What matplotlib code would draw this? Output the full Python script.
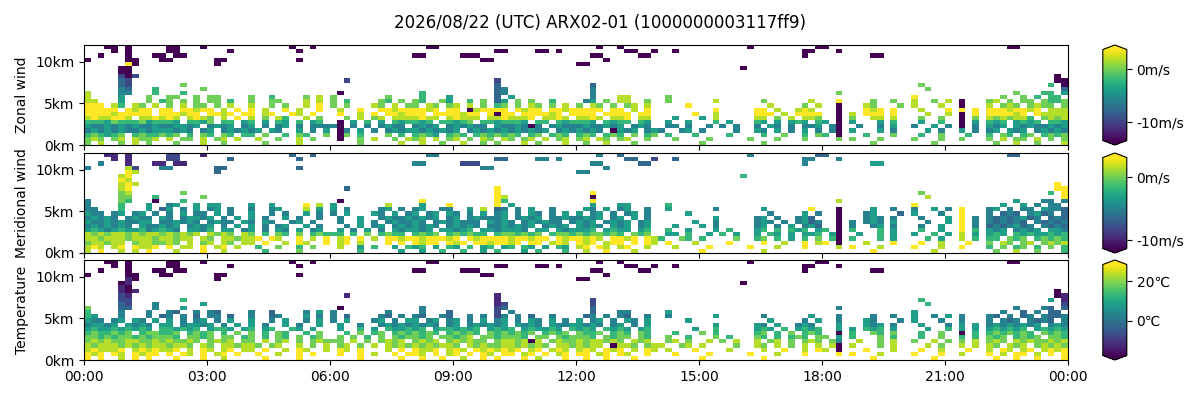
import numpy as np
import matplotlib
matplotlib.use('Agg')
import matplotlib.pyplot as plt
import matplotlib.dates as mdates
from matplotlib.ticker import FormatStrFormatter

plt.rcParams['font.family'] = ['DejaVu Sans', 'Noto Sans CJK JP']

TITLE = '2026/08/22 (UTC) ARX02-01 (1000000003117ff9)'
START = np.datetime64('2026-08-22T00:00')
STEP_MIN = 10          # one column = 10 minutes, 144 columns
STEP_KM = 0.5          # one row = 500 m, 24 rows
NCOL, NROW = 144, 24

LABELS = ['Zonal wind', 'Meridional wind', 'Temperature']
RANGES = [(-13.6, 3.8), (-11.3, 3.0), (-17.7, 28.5)]
CB_TICKS = [[0, -10], [0, -10], [20, 0]]
CB_FMT = ['%dm/s', '%dm/s', '%d\u2103']

# each row = 12 blocks of 2 hours (12 cells of 10 min)
# '.' = no data, digit 0..9 = position in the colour range, '-' = empty block
# rows go from the top (11.5-12 km) down to the ground
ZONAL_ROWS = [
    "...00.0..... 00...0...... ......0..0.. - ..00........ - ...0..0..... - .0.........0 0........... - ...00.......",
    "....0.0..... 00.......0.. .......0.... - - 00....00.0.. .......00..0 ..0......... .........00. ..0.........",
    "..0...0...00 .00......... - - 00.....000.. - ..00.....00. - .........0.. .......00...",
    "0.....00...0 0......00... .......0.... - ..........00 - ....0.......",
    "......90.... .......0.... - - - - 00..........",
    ".....00..... - - - - - - - 0...........",
    ".....00.....",
    ".....202.... - - - - - - - - - - ..........0.",
    ".....32..... - - ..2......... - 2........... - - - - - ..........00",
    ".....32..... ..7......... - - - 3........... ..3......... - - - ..7......... .........6.0",
    ".....43...6. .....7...... - - - 34.......... ..4......... - - - ...7........ ...........3",
    "8....44...6. ..6......... - .0.......... .6.......... 34.......... ..4......... - - ..7......... - ....7...66.5",
    "8....5...7.. 77..7.77.... 7..6....7.8. 7.......7... .6...5...... 3.5......... ..4...88.... .7.......... - - .9.......... ..7..7.6.66.",
    "88...5...7.6 7.7.7.77.6.. 7..77...8.8. 7.6....76.7. 76..75..6.7. 35.7.7..6... .45.7.88..7. .7......8... ...7......8. ..9....7..7. .8..7.8.0... 78.7.77.7667",
    "999.86.87.8. 7.8.77.7.8.. 8..7.7..8.9. 7.7...87.8.7 7.87.78.8.7. 67.7.87.7.8. 7.87.7.78.8. ....9....... ....8....7.8 ..0...87...7 .8...8..0... 8.787.7877.7",
    "99999.9899.9 9.99899.8.9. 9.8..9.8..9. .8..9..99899 9989.99.0899 99.9899.9989 9999.99.8.9. ........9... ..99.8..898. ..0...989.9. ..8...9.9.9. 99989989.888",
    "9999899999.9 99899.9989.9 9.89..98.9.. .9..8.9.9989 99.9999899.9 099.999989.9 999.9999.99. .....9..8... ..999.8.9999 ..0.8.999.9. ...8..8.0.9. 999989.98888",
    "8988998.8898 98.8987.8.9. 8.7.86..8.7. ..7.8.78.888 8988.89888.8 898889.8898. 8898.889.88. ..5...5.8... ..88.7.8.887 ..0.7..88.8. ..7..7..0.7. 8787886.7878",
    "666576667566 65.6657.66.5 6.5.65.6.56. .0.5.6.5.656 656.66567.66 56665.66.656 665.6566.65. .5..5...6.5. ..65.5.565.6 5.0.5...5.6. ..5..6..0.5. 656.5656.665",
    "544545454454 45545.4545.4 5.4.45.4.444 40.4.4.4544. 4545.454544. 5445404.4544 4544545.454. .44.4..4.4.4 ..4.54.4.445 .40..4..4.5. .4..5.4.0.4. 545.54544545",
    "454545445455 5454.45.4545 45.54..5.4.5 .04.5.4.4545 5454545.4545 45454545.454 5454.0545.45 4..45.4....4 ..54.5.4.5.4 .40.5...5.4. ...5.4..5.4. 45.545.45454",
    "676567.67667 67.6.76.76.6 6.7..6.76..7 .07.6...7.6. 6765.676.676 7676.67.676. 676.676.7.67 .6...6....6. ...6..7..6.7 6.0...6...7. ..6..7...6.. 6.76.67.6767",
    "787.78.8778. 8.77.8.78.8. .8..7..8.7.. .0..7.8..7.8 78.8.78.7.87 .87.78.8.78. 78.87.78..7. ..7....7.... .7...7...7.. ..7.7...7... .7...7..7... 7.8.77.8.7.7",
    "7.8..7.8.7.. .7...8..7... ..7....8.... ....7.....8. .8..7..8..7. 7...8.7...8. .7..8...7... ......7..... ...7........ .......7.... ....7....... .7..8..7...8",
]

MERID_ROWS = [
    "...11.1..... 22...1...... ......3..3.. - ..44........ - ...4..3..... - .4.........3 3........... - ...33.......",
    "....1.1..... 22.......3.. .......3.... - - 33....44.4.. .......33..2 ..3......... .........44. ..4.........",
    "..4...1...11 .11......... - - 44.....222.. - ..44.....33. - .........4.. .......55...",
    "4.....82...4 4......33... .......3.... - ..........44 - ....4.......",
    "......98.... .......3.... - - - - 44..........",
    ".....89..... - - - - - - - 6...........",
    ".....98.....",
    ".....898.... - - - - - - - - - - ..........9.",
    ".....89..... - - ..3......... - 9........... - - - - - ..........99",
    ".....78..... ..7......... - - - 9........... ..9......... - - - ..7......... .........6.9",
    ".....77...6. .....7...... - - - 98.......... ..0......... - - - ...8........ ...........9",
    "4....76...0. ..6......... - .0.......... .9.......... 96.......... ..9......... - - ..8......... - ....5...44.4",
    "4....6...5.. 45..5.55.... 5..5....9.8. 5.......8... .5...9...... 9.5......... ..5...55.... .6.......... - - .9.......... ..5..5.4.44.",
    "44...6...5.3 5.4.5.45.4.. 4..45...8.5. 5.4....45.4. 45..44..5.8. 34.4.5..4... .54.5.45..4. .5......4... ...5......9. ..0....5..4. .4..5.4.9... 45.4.44.5443",
    "544.45.45.4. 4.5.44.5.4.. 5..4.4..5.4. 4.5...54.5.4 5.45.54.4.5. 45.4.54.4.5. 5.45.4.45.4. ....5....... ....4....5.4 ..0...45...3 .5...4..9... 4.343.4534.3",
    "45454.4544.5 4.45545.4.5. 5.4..5.4..4. .4..5..45445 4545.45.4544 45.4545.4454 4545.45.5.4. ........5... ..45.4..453. ..0...454.4. ..4...5.9.4. 43434534.343",
    "5445454455.4 45454.4544.5 4.54..45.4.. .4..5.4.4544 54.4545444.5 454.454544.4 545.4545.45. .....5..4... ..454.4.4534 ..0.4.454.5. ...4..5.9.4. 434343.43434",
    "4545454.5445 45.4545.4.5. 5.4.45..5.4. ..4.5.45.454 5454.45454.4 454545.4545. 5454.545.45. ..5...5.4... ..45.4.5.453 ..0.4..45.4. ..4..5..9.4. 3434534.4343",
    "565456556456 54.5546.55.4 5.4.54.5.45. .5.4.5.4.545 545.55456.55 45554.55.545 556.5655.56. .6..5...5.6. ..56.6.656.5 6.0.6...6.5. ..6..5..9.6. 545.4545.554",
    "878788787887 87878.8787.8 7.6.76.7.676 66.6.7.6766. 6767.676766. 6776767.6776 7677676.767. .55.6..5.6.5 ..5.65.5.556 .50..5..6.5. .5..6.5.8.5. 565.65655656",
    "887888788878 8788.87.8878 89.98..9.8.9 .89.9.8.9989 9899989.9899 99899899.989 9898.9989.98 6..76.6....7 ..67.6.5.6.7 .60.6...6.5. ...6.5..8.6. 66.767.67676",
    "788788.78877 87.8.78.87.8 8.9..8.98..9 .89.8...9.9. 9899.989.998 9989.99.898. 989.899.9.98 .9...8....9. ...9..8..9.8 9.0...8...9. ..9..8...9.. 7.87.78.7878",
    "898.89.9889. 9.88.9.89.8. .6..7..6.7.. .8..5.6..5.6 56.5.65.6.56 .56.65.5.65. 89.98.89..8. ..8....9.... .9...8...9.. ..8.9...8... .9...8..9... 6.7.67.6.7.6",
    "8.9..8.8.9.. .8...9..8... ..6....7.... ....6.....5. .5..6..6..5. 6...5.6...6. .8..9...8... ......9..... ...8........ .......9.... ....8....... .7..8..7...6",
]

TEMP_ROWS = [
    "...00.0..... 00...0...... ......0..0.. - ..00........ - ...0..0..... - .0.........0 0........... - ...00.......",
    "....0.0..... 00.......0.. .......0.... - - 00....00.0.. .......00..0 ..0......... .........00. ..0.........",
    "..0...0...00 .00......... - - 00.....000.. - ..00.....00. - .........0.. .......00...",
    "0.....00...0 0......00... .......0.... - ..........00 - ....0.......",
    "......10.... .......0.... - - - - 00..........",
    ".....01..... - - - - - - - 0...........",
    ".....10.....",
    ".....101.... - - - - - - - - - - ..........0.",
    ".....21..... - - ..1......... - 1........... - - - - - ..........01",
    ".....22..... ..6......... - - - 1........... ..2......... - - - ..6......... .........5.1",
    ".....32...4. .....5...... - - - 12.......... ..2......... - - - ...6........ ...........2",
    "7....33...4. ..5......... - .0.......... .4.......... 23.......... ..3......... - - ..4......... - ....4...43.3",
    "6....4...4.. 43..4.43.... 4..3....4.5. 4.......4... .4...3...... 2.4......... ..3...44.... .5.......... - - .5.......... ..4..3.4.33.",
    "65...4...4.3 4.4.3.44.3.. 4..34...5.4. 4.3....43.4. 43..43..4.4. 24.4.3..4... .34.4.43..4. .4......5... ...4......5. ..4....4..4. .5..4.5.4... 43.4.34.4334",
    "544.45.54.5. 5.4.45.4.5.. 5..4.5..4.5. 4.5...45.4.5 5.45.45.4.5. 45.4.54.5.4. 5.45.4.54.5. ....5....... ....5....4.5 ..4...54...4 .5...4..4... 4.434.4343.4",
    "45545.5454.5 5.45545.4.5. 5.4..5.4..5. .5..4..45454 5454.45.4545 45.5454.5445 5454.45.4.5. ........5... ..54.5..454. ..5...545.4. ..5...4.5.5. 45454545.454",
    "5655656565.6 65656.5665.5 6.56..65.5.. .5..6.5.6556 56.5665656.5 656.565565.6 565.6565.56. .....5..6... ..565.6.5656 ..5.5.656.5. ...5..6.5.5. 565656.56565",
    "6766767.6776 67.6767.6.7. 7.6.76..6.7. ..6.7.67.676 7676.67676.7 676767.6767. 7667.676.76. ..6...7.6... ..67.6.7.676 ..0.6..76.7. ..6..7..0.6. 6767676.7676",
    "776767767677 76.7767.77.6 7.6.76.7.67. .7.7.6.7.767 767.77678.77 67776.77.767 776.7677.76. .7..6...7.6. ..76.6.676.7 7.5.6...7.6. ..6..7..6.6. 767.6767.776",
    "787877887787 87787.7878.7 7.8.78.7.787 77.8.7.7878. 7878.787877. 7887808.7877 8788787.878. .78.7..8.7.8 ..8.78.7.787 .74..8..7.8. .7..8.7.7.8. 787.87877878",
    "878887878788 7887.87.8878 87.78..8.7.8 .78.7.8.8787 8787887.8787 78878787.887 8788.0887.78 8..78.8....7 ..87.8.7.8.8 .80.8...7.8. ...8.7..8.8. 87.878.78787",
    "898889.89898 89.8.98.89.8 8.9..8.98..8 .98.9...8.9. 9889.898.989 8989.89.898. 898.989.8.98 .8...9....8. ...8..9..8.9 8.0...9...8. ..9..8...9.. 8.98.89.8989",
    "989.98.9899. 9.98.9.89.9. .9..8..9.9.. .9..9.8..9.9 98.9.89.9.98 .99.89.9.89. 99.89.98..9. ..9....9.... .9...8...9.. ..9.9...8... .9...9..8... 9.8.99.8.9.9",
    "9.9..8.9.9.. .9...9..8... ..9....9.... ....9.....9. .9..9..8..9. 9...9.8...9. .9..9...9... ......9..... ...9........ .......9.... ....9....... .9..9..9...9",
]


def parse(rows, vrange):
    vmin, vmax = vrange
    grid = []
    for s in rows:
        blocks = [('' if b == '-' else b).ljust(12, '.')[:12] for b in s.split()]
        line = ''.join(blocks).ljust(NCOL, '.')[:NCOL]
        grid.append([np.nan if c == '.' else vmin + int(c) / 9 * (vmax - vmin) for c in line])
    grid = np.array(grid[::-1])  # ground first
    return np.ma.masked_invalid(grid)


t_edges = START + np.arange(NCOL + 1) * np.timedelta64(STEP_MIN, 'm')
h_edges = np.arange(NROW + 1) * STEP_KM

fig = plt.figure(figsize=(12, 4), dpi=100)
fig.suptitle(TITLE, y=0.965, fontsize=12)

bottoms = [0.6375, 0.3675, 0.1]
for k, rows in enumerate([ZONAL_ROWS, MERID_ROWS, TEMP_ROWS]):
    vmin, vmax = RANGES[k]
    data = parse(rows, RANGES[k])
    ax = fig.add_axes([0.07, bottoms[k], 0.82, 0.25])
    cax = fig.add_axes([0.919, bottoms[k], 0.02, 0.25])
    m = ax.pcolormesh(t_edges, h_edges, data, cmap='viridis', vmin=vmin, vmax=vmax)
    ax.set_xlim(t_edges[0], t_edges[-1])
    ax.set_ylim(0, 12)
    ax.set_yticks([0, 5, 10])
    ax.yaxis.set_major_formatter(FormatStrFormatter('%dkm'))
    ax.xaxis.set_major_locator(mdates.HourLocator(byhour=range(0, 24, 3)))
    ax.xaxis.set_major_formatter(mdates.DateFormatter('%H:%M'))
    if k < 2:
        ax.tick_params(labelbottom=False)
    ax.set_ylabel(LABELS[k])
    fig.colorbar(m, cax=cax, extend='both', ticks=CB_TICKS[k],
                 format=FormatStrFormatter(CB_FMT[k]))

plt.savefig('out.png')
